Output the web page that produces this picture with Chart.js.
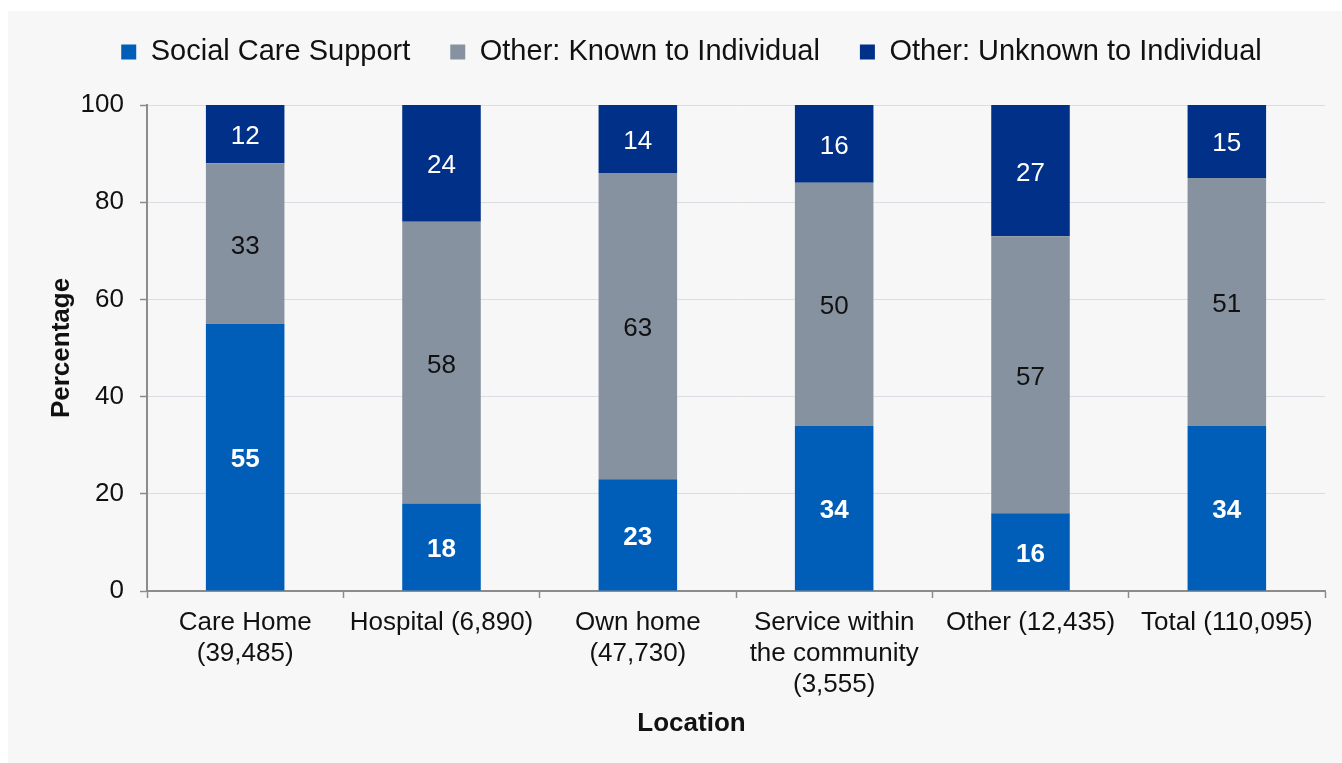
<!DOCTYPE html>
<html>
<head>
<meta charset="utf-8">
<script src="https://cdn.jsdelivr.net/npm/chart.js@4.4.1/dist/chart.umd.min.js"></script>
<style>
  html, body { margin: 0; padding: 0; background: #fff; }
  #panel { position: absolute; left: 8px; top: 11px; width: 1334px; height: 752px; background: #f7f7f7; }
  canvas { display: block; }
</style>
</head>
<body>
<div id="panel"><canvas id="chart" width="1334" height="752"></canvas></div>
<script>
// categories (location with number of referrals)
const locations = [
  ["Care Home", "(39,485)"],
  "Hospital (6,890)",
  ["Own home", "(47,730)"],
  ["Service within", "the community", "(3,555)"],
  "Other (12,435)",
  "Total (110,095)"
];
const socialCare = [55, 18, 23, 34, 16, 34];
const knownOther = [33, 58, 63, 50, 57, 51];
const unknownOther = [12, 24, 14, 16, 27, 15];
const yTicks = [0, 20, 40, 60, 80, 100];

const FONT = '"Liberation Sans", Arial, sans-serif';
const AXIS_GREY = "#8c8c8c";
Chart.defaults.font.family = FONT;
Chart.defaults.color = "#111";

// legend sits closer to the plot than Chart.js would put it, so pin its height
const legendHeightFix = {
  id: "legendHeightFix",
  beforeInit(chart) {
    const legend = chart.legend;
    const fit = legend.fit.bind(legend);
    legend.fit = function () {
      fit();
      this.height = 107.5;
    };
  }
};

// value labels in the middle of each stacked segment
const segmentLabels = {
  id: "segmentLabels",
  afterDatasetsDraw(chart) {
    const ctx = chart.ctx;
    ctx.save();
    ctx.textAlign = "center";
    ctx.textBaseline = "alphabetic";
    chart.data.datasets.forEach((ds, i) => {
      const meta = chart.getDatasetMeta(i);
      ctx.font = (ds.labelBold ? "bold " : "") + "26px " + FONT;
      ctx.fillStyle = ds.labelColor;
      meta.data.forEach((bar, j) => {
        // baseline a little below the middle so the digits look centred
        ctx.fillText(String(ds.data[j]), bar.x, (bar.y + bar.base) / 2 + 10);
      });
    });
    ctx.restore();
  }
};

new Chart(document.getElementById("chart"), {
  type: "bar",
  data: {
    labels: locations,
    datasets: [
      {
        label: "Social Care Support",
        data: socialCare,
        backgroundColor: "#005eb8",
        labelColor: "#fff",
        labelBold: true
      },
      {
        label: "Other: Known to Individual",
        data: knownOther,
        backgroundColor: "#8792a0",
        labelColor: "#111",
        labelBold: false
      },
      {
        label: "Other: Unknown to Individual",
        data: unknownOther,
        backgroundColor: "#003087",
        labelColor: "#fff",
        labelBold: false
      }
    ]
  },
  options: {
    responsive: false,
    animation: false,
    datasets: {
      bar: { barPercentage: 0.4, categoryPercentage: 1, borderWidth: 0 }
    },
    layout: { padding: { top: -13.5, left: 50, right: 17, bottom: 0 } },
    plugins: {
      legend: {
        position: "top",
        labels: {
          boxWidth: 15,
          boxHeight: 15,
          padding: 40,
          color: "#111",
          font: { size: 29 }
        }
      },
      title: {
        display: true,
        position: "bottom",
        text: "Location",
        color: "#111",
        font: { size: 26, weight: "bold" },
        padding: { top: 10, bottom: 23.4 }
      },
      tooltip: { enabled: false }
    },
    scales: {
      x: {
        stacked: true,
        grid: {
          drawOnChartArea: false,
          offset: true,
          tickLength: 7,
          color: AXIS_GREY,
          tickColor: AXIS_GREY,
          tickWidth: 1.5
        },
        border: { color: AXIS_GREY, width: 2 },
        ticks: {
          color: "#111",
          font: { size: 26 },
          padding: 9,
          maxRotation: 0,
          autoSkip: false
        },
        afterFit(scale) {
          scale.height = 107.4;
        }
      },
      y: {
        stacked: true,
        min: 0,
        max: 100,
        afterBuildTicks(scale) {
          scale.ticks = yTicks.map((v) => ({ value: v }));
        },
        grid: {
          color: "#dadde1",
          lineWidth: 1,
          tickLength: 7,
          tickColor: AXIS_GREY,
          tickWidth: 1.5
        },
        border: { color: AXIS_GREY, width: 2 },
        ticks: {
          color: "#111",
          font: { size: 26 },
          padding: 16
        },
        title: {
          display: true,
          text: "Percentage",
          color: "#111",
          font: { size: 26, weight: "bold" },
          padding: { top: -12, bottom: 0 }
        },
        afterFit(scale) {
          scale.width = 89;
        }
      }
    }
  },
  plugins: [legendHeightFix, segmentLabels]
});
</script>
</body>
</html>
